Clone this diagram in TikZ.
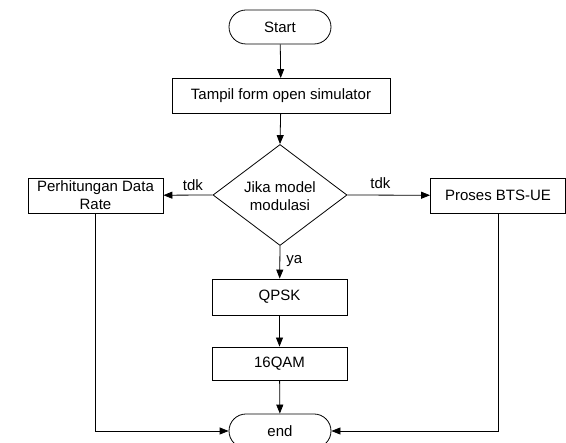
\documentclass[tikz,border=0pt]{standalone}
\usepackage{fontspec}
\setmainfont{Liberation Sans}
\usetikzlibrary{shapes.geometric,arrows.meta}
\begin{document}
\begin{tikzpicture}[x=1pt,y=-1pt,
  font=\fontsize{15}{18}\selectfont,
  every node/.style={inner sep=0pt},
  terminal/.style={draw,rounded corners=17pt,minimum width=102pt,minimum height=34pt},
  procbox/.style={draw,minimum height=35pt,align=center},
  decide/.style={draw,diamond,minimum width=134pt,minimum height=101pt,align=center,aspect=1.33},
  flow/.style={-{Triangle[length=9pt,width=7pt]}},
  line width=0.8pt]
\useasboundingbox (0,0) rectangle (566,443);
\node[terminal] (start) at (280,27) {Start};
\node[procbox,minimum width=218pt] (tampil) at (281,96) {Tampil form open simulator};
\node[decide,inner sep=0pt] (jika) at (280,195) {};
\node[align=center] (jikatxt) at (280,196) {Jika model\\modulasi};
\node[procbox,minimum width=135pt] (hitung) at (95.5,195.5) {Perhitungan Data\\Rate};
\node[procbox,minimum width=135pt] (bts) at (498,195.5) {Proses BTS-UE};
\node[procbox,minimum width=135pt,minimum height=36pt] (qpsk) at (279.5,297) {QPSK};
\node[procbox,minimum width=135pt,minimum height=33pt] (qam) at (279.5,363.5) {16QAM};
\node[terminal] (end) at (280,431) {end};
\coordinate (lcorner) at (hitung.south |- end.west);
\coordinate (rcorner) at (bts.south |- end.east);

\draw[flow] (start) -- (tampil);
\draw[flow] (tampil) -- (jika.north);
\draw[flow] (jika.west) -- node[above=4pt,pos=0.4] (ltdk) {tdk} (hitung);
\draw[flow] (jika.east) -- node[above=6pt,pos=0.4] (rtdk) {tdk} (bts);
\draw[flow] (jika.south) -- node[right=6pt,pos=0.45] (ya) {ya} (qpsk);
\draw[flow] (qpsk) -- (qam);
\draw[flow] (qam) -- (end);
\draw[flow] (hitung.south) -- (lcorner) -- (end.west);
\draw[flow] (bts.south) -- (rcorner) -- (end.east);
\end{tikzpicture}
\end{document}
